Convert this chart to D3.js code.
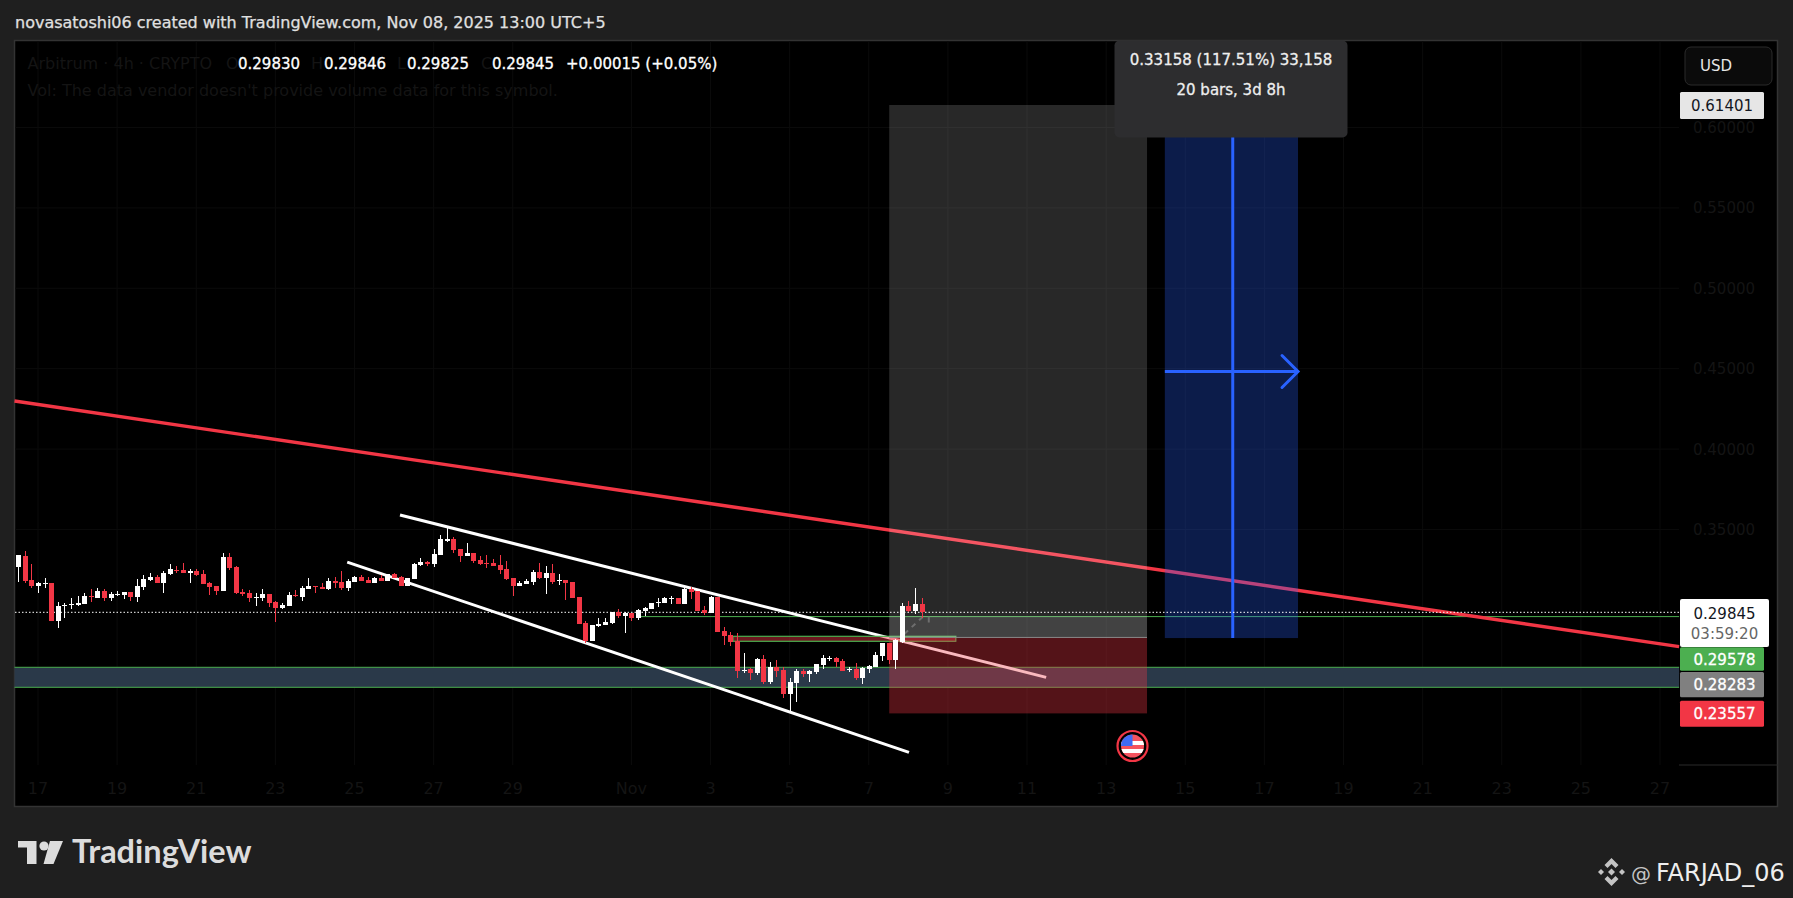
<!DOCTYPE html>
<html>
<head>
<meta charset="utf-8">
<script src="https://cdn.jsdelivr.net/npm/d3@7"></script>
<style>
  html, body { margin: 0; padding: 0; background: #1f1f1f; overflow: hidden; }
  svg { display: block; }
  text { font-family: "DejaVu Sans", sans-serif; }
</style>
</head>
<body>
<script>
//screen width and height
var w = 1793;
var h = 898;

// price axis
var priceTicks = [0.6, 0.55, 0.5, 0.45, 0.4, 0.35];

// time axis, in 4h bars counted from Oct 17 (six bars a day)
var timeTicks = [0, 12, 24, 36, 48, 60, 72, 90, 102, 114, 126, 138, 150, 162, 174, 186, 198, 210, 222, 234, 246];
var timeLabels = ["17", "19", "21", "23", "25", "27", "29", "Nov", "3", "5", "7", "9", "11", "13", "15", "17", "19", "21", "23", "25", "27"];

// levels
var lastPrice = 0.29845;
var greenLevel = 0.29578;
var entryPrice = 0.28283;
var stopPrice = 0.23557;
var targetPrice = 0.61401;
var rangeLow = 0.28243;
var bandPrices = [0.26425, 0.25181];
var orderBlockPrices = [0.28352, 0.28042];

// drawings: [bar, price] end points
var trendLine = [[-3.56, 0.4299], [248.9, 0.2771]];
var channelUpper = [[54.9, 0.3590], [152.9, 0.2580]];
var channelLower = [[46.9, 0.3297], [132.1, 0.2113]];
var projection = [[131.4, 0.2850], [134.6, 0.2972]];
var projectionStub = [[135.1, 0.2957], [135.1, 0.2921]];

// bar ranges of the boxes
var chartBars = [-3.56, 248.9];
var greenLevelBars = [91.4, 248.9];
var orderBlockBars = [105.4, 139.2];
var positionBars = [129.1, 168.2];
var rangeBars = [170.9, 191.1];
var rangeMidBar = 181.2;
var eventBar = 166;

// candles start at bar -3, each row is open, high, low, close
var firstBar = -3;
var candles = [
  [.3266, .3341, .3173, .3341], [.3335, .3366, .3167, .3179], [.3186, .3285, .3136, .3148], [.3148, .3173, .3105, .3169],
  [.3165, .3198, .3136, .3169], [.3167, .3167, .2931, .2931], [.2931, .3047, .2887, .3024], [.3026, .3042, .2949, .3032],
  [.3032, .3074, .3005, .3038], [.3030, .3086, .3024, .3042], [.3036, .3105, .3036, .3086], [.3086, .3130, .3049, .3080],
  [.3074, .3136, .3074, .3117], [.3117, .3130, .3055, .3074], [.3074, .3111, .3055, .3098], [.3092, .3117, .3086, .3098],
  [.3092, .3111, .3067, .3111], [.3111, .3111, .3055, .3080], [.3080, .3192, .3049, .3148], [.3142, .3217, .3123, .3192],
  [.3186, .3229, .3179, .3204], [.3204, .3217, .3167, .3167], [.3167, .3242, .3105, .3229], [.3223, .3285, .3217, .3254],
  [.3248, .3273, .3229, .3242], [.3248, .3291, .3229, .3229], [.3231, .3254, .3167, .3242], [.3242, .3254, .3210, .3217],
  [.3223, .3248, .3161, .3161], [.3167, .3173, .3092, .3142], [.3148, .3148, .3092, .3117], [.3117, .3353, .3117, .3329],
  [.3329, .3353, .3248, .3260], [.3266, .3273, .3098, .3105], [.3111, .3130, .3086, .3098], [.3105, .3123, .3049, .3074],
  [.3076, .3105, .3024, .3080], [.3074, .3130, .3055, .3098], [.3098, .3098, .3018, .3042], [.3049, .3055, .2924, .3011],
  [.3011, .3042, .3005, .3030], [.3024, .3111, .3024, .3092], [.3090, .3123, .3080, .3086], [.3080, .3148, .3055, .3136],
  [.3130, .3198, .3130, .3148], [.3148, .3148, .3105, .3144], [.3142, .3167, .3130, .3130], [.3130, .3198, .3123, .3179],
  [.3179, .3204, .3136, .3167], [.3173, .3242, .3123, .3136], [.3136, .3192, .3117, .3179], [.3173, .3210, .3173, .3204],
  [.3204, .3217, .3179, .3179], [.3186, .3204, .3167, .3167], [.3167, .3204, .3167, .3198], [.3198, .3217, .3179, .3179],
  [.3179, .3223, .3179, .3223], [.3223, .3229, .3198, .3198], [.3204, .3210, .3148, .3148], [.3148, .3198, .3148, .3198],
  [.3192, .3291, .3192, .3285], [.3279, .3322, .3273, .3298], [.3298, .3304, .3273, .3285], [.3285, .3378, .3266, .3347],
  [.3341, .3465, .3341, .3441], [.3428, .3509, .3422, .3441], [.3441, .3453, .3353, .3372], [.3378, .3378, .3298, .3335],
  [.3335, .3416, .3335, .3353], [.3353, .3353, .3291, .3304], [.3310, .3335, .3279, .3285], [.3291, .3341, .3260, .3287],
  [.3291, .3316, .3273, .3273], [.3279, .3341, .3223, .3248], [.3254, .3304, .3186, .3192], [.3198, .3198, .3086, .3148],
  [.3148, .3179, .3148, .3167], [.3161, .3192, .3161, .3179], [.3173, .3248, .3154, .3235], [.3235, .3291, .3192, .3198],
  [.3198, .3273, .3098, .3229], [.3229, .3285, .3161, .3173], [.3179, .3223, .3154, .3186], [.3186, .3186, .3061, .3167],
  [.3173, .3173, .3074, .3074], [.3080, .3080, .2912, .2912], [.2918, .2931, .2794, .2806], [.2806, .2906, .2806, .2906],
  [.2899, .2949, .2893, .2912], [.2906, .2949, .2906, .2924], [.2918, .2987, .2912, .2987], [.2987, .3005, .2949, .2962],
  [.2962, .2987, .2856, .2980], [.2980, .2980, .2931, .2949], [.2949, .3005, .2937, .2999], [.2993, .3018, .2962, .3011],
  [.3005, .3042, .3005, .3042], [.3042, .3074, .3018, .3049], [.3042, .3080, .3042, .3074], [.3067, .3086, .3036, .3074],
  [.3074, .3074, .3036, .3036], [.3036, .3136, .3036, .3130], [.3130, .3142, .3067, .3111], [.3117, .3117, .2993, .2993],
  [.2999, .3024, .2968, .2980], [.2980, .3086, .2980, .3080], [.3080, .3080, .2862, .2862], [.2868, .2893, .2781, .2837],
  [.2843, .2862, .2775, .2800], [.2806, .2856, .2576, .2620], [.2622, .2732, .2607, .2626], [.2632, .2638, .2564, .2607],
  [.2607, .2701, .2595, .2694], [.2694, .2719, .2539, .2551], [.2551, .2676, .2539, .2645], [.2645, .2688, .2582, .2620],
  [.2626, .2645, .2452, .2477], [.2477, .2576, .2365, .2551], [.2545, .2632, .2427, .2620], [.2620, .2632, .2582, .2601],
  [.2601, .2626, .2551, .2620], [.2614, .2663, .2601, .2663], [.2657, .2719, .2632, .2701], [.2697, .2713, .2682, .2701],
  [.2701, .2707, .2643, .2676], [.2682, .2694, .2620, .2620], [.2628, .2645, .2614, .2632], [.2632, .2669, .2564, .2576],
  [.2576, .2645, .2539, .2638], [.2632, .2657, .2607, .2651], [.2645, .2738, .2645, .2719], [.2713, .2794, .2682, .2794],
  [.2794, .2794, .2663, .2688], [.2688, .2819, .2632, .2812], [.2800, .3042, .2794, .3024], [.3024, .3055, .2987, .2993],
  [.2993, .3136, .2974, .3036], [.3036, .3074, .2949, .2985]
];

var RED = "#f23645";
var GREEN = "#4caf50";
var BLUE = "#2962ff";
var DIM = "#141414";

var x = d3.scaleLinear().domain([0, 246]).range([38, 1660]);
var y = d3.scaleLinear().domain([stopPrice, targetPrice]).range([713.4, 105]);

var svg = d3.select("body").append("svg")
  .attr("width", w)
  .attr("height", h);

svg.append("rect").attr("width", w).attr("height", h).attr("fill", "#1f1f1f");

// chart panel
var panel = {left: 15, right: 1778, top: 41, bottom: 807, axisX: 1679, axisY: 765};
svg.append("rect")
  .attr("x", panel.left - 0.5)
  .attr("y", panel.top - 0.5)
  .attr("width", panel.right - panel.left)
  .attr("height", panel.bottom - panel.top)
  .attr("fill", "#000")
  .attr("stroke", "#333")
  .attr("stroke-width", 1.5);

// faint grid
var grid = svg.append("g").attr("stroke", "#0b0b0b");
grid.selectAll("line.v").data(timeTicks).enter().append("line")
  .attr("class", "v")
  .attr("x1", function(d) { return x(d); })
  .attr("x2", function(d) { return x(d); })
  .attr("y1", panel.top)
  .attr("y2", panel.axisY);
grid.selectAll("line.h").data(priceTicks).enter().append("line")
  .attr("class", "h")
  .attr("x1", panel.left)
  .attr("x2", panel.axisX)
  .attr("y1", function(d) { return y(d); })
  .attr("y2", function(d) { return y(d); });

svg.append("line")
  .attr("x1", panel.axisX).attr("x2", panel.right)
  .attr("y1", panel.axisY).attr("y2", panel.axisY)
  .attr("stroke", "#2a2a2a");

// faint axis text, almost invisible on the black panel
svg.selectAll("text.time").data(timeTicks).enter().append("text")
  .attr("class", "time")
  .attr("x", function(d) { return x(d); })
  .attr("y", 794)
  .attr("text-anchor", "middle")
  .attr("font-size", 16)
  .attr("fill", DIM)
  .text(function(d, i) { return timeLabels[i]; });

svg.selectAll("text.price").data(priceTicks).enter().append("text")
  .attr("class", "price")
  .attr("x", 1724)
  .attr("y", function(d) { return y(d) + 5.5; })
  .attr("text-anchor", "middle")
  .attr("font-size", 15)
  .attr("fill", DIM)
  .text(function(d) { return d.toFixed(5); });

// support band
svg.append("rect")
  .attr("x", x(chartBars[0]))
  .attr("y", y(bandPrices[0]))
  .attr("width", x(chartBars[1]) - x(chartBars[0]))
  .attr("height", y(bandPrices[1]) - y(bandPrices[0]))
  .attr("fill", "#2a3949");
svg.selectAll("line.band").data(bandPrices).enter().append("line")
  .attr("class", "band")
  .attr("x1", x(chartBars[0]))
  .attr("x2", x(chartBars[1]))
  .attr("y1", function(d) { return y(d); })
  .attr("y2", function(d) { return y(d); })
  .attr("stroke", GREEN)
  .attr("stroke-width", 1);

// green level
svg.append("line")
  .attr("x1", x(greenLevelBars[0]))
  .attr("x2", x(greenLevelBars[1]))
  .attr("y1", y(greenLevel))
  .attr("y2", y(greenLevel))
  .attr("stroke", GREEN);

// trend line and channel
var line = d3.line()
  .x(function(d) { return x(d[0]); })
  .y(function(d) { return y(d[1]); });

svg.append("path").attr("d", line(trendLine))
  .attr("fill", "none").attr("stroke", RED).attr("stroke-width", 3.4);
[channelUpper, channelLower].forEach(function(c) {
  svg.append("path").attr("d", line(c))
    .attr("fill", "none").attr("stroke", "#fff").attr("stroke-width", 3);
});

// order block
svg.append("rect")
  .attr("x", x(orderBlockBars[0]))
  .attr("y", y(orderBlockPrices[0]))
  .attr("width", x(orderBlockBars[1]) - x(orderBlockBars[0]))
  .attr("height", y(orderBlockPrices[1]) - y(orderBlockPrices[0]))
  .attr("fill", "rgba(242,54,69,0.45)")
  .attr("stroke", GREEN)
  .attr("stroke-width", 1.2);

// long position boxes
svg.append("rect")
  .attr("x", x(positionBars[0]))
  .attr("y", y(targetPrice))
  .attr("width", x(positionBars[1]) - x(positionBars[0]))
  .attr("height", y(entryPrice) - y(targetPrice))
  .attr("fill", "rgba(255,255,255,0.157)");
svg.append("rect")
  .attr("x", x(positionBars[0]))
  .attr("y", y(greenLevel))
  .attr("width", x(positionBars[1]) - x(positionBars[0]))
  .attr("height", y(entryPrice) - y(greenLevel))
  .attr("fill", "rgba(255,255,255,0.12)");
svg.append("rect")
  .attr("x", x(positionBars[0]))
  .attr("y", y(entryPrice))
  .attr("width", x(positionBars[1]) - x(positionBars[0]))
  .attr("height", y(stopPrice) - y(entryPrice))
  .attr("fill", "rgba(242,54,69,0.35)");
svg.append("line")
  .attr("x1", x(positionBars[0]))
  .attr("x2", x(positionBars[1]))
  .attr("y1", y(entryPrice))
  .attr("y2", y(entryPrice))
  .attr("stroke", "#8a8a8a");

// price range tool
svg.append("rect")
  .attr("x", x(rangeBars[0]))
  .attr("y", y(targetPrice))
  .attr("width", x(rangeBars[1]) - x(rangeBars[0]))
  .attr("height", y(rangeLow) - y(targetPrice))
  .attr("fill", "rgba(41,98,255,0.29)");
var midPrice = (targetPrice + rangeLow) / 2;
svg.append("line")
  .attr("x1", x(rangeMidBar)).attr("x2", x(rangeMidBar))
  .attr("y1", y(targetPrice)).attr("y2", y(rangeLow))
  .attr("stroke", BLUE).attr("stroke-width", 3);
svg.append("line")
  .attr("x1", x(rangeBars[0])).attr("x2", x(rangeBars[1]))
  .attr("y1", y(midPrice)).attr("y2", y(midPrice))
  .attr("stroke", BLUE).attr("stroke-width", 3);
svg.append("path")
  .attr("d", "M" + (x(rangeBars[1]) - 16) + "," + (y(midPrice) - 16) +
    "L" + x(rangeBars[1]) + "," + y(midPrice) +
    "L" + (x(rangeBars[1]) - 16) + "," + (y(midPrice) + 16))
  .attr("fill", "none").attr("stroke", BLUE).attr("stroke-width", 3).attr("stroke-linecap", "round");

// dashed projection inside the target box
svg.append("path").attr("d", line(projection))
  .attr("fill", "none").attr("stroke", "#6e6e6e").attr("stroke-width", 2).attr("stroke-dasharray", "5 5");
svg.append("path").attr("d", line(projectionStub))
  .attr("fill", "none").attr("stroke", "#6e6e6e").attr("stroke-width", 2);

// last price line
svg.append("line")
  .attr("x1", panel.left).attr("x2", panel.axisX)
  .attr("y1", y(lastPrice)).attr("y2", y(lastPrice))
  .attr("stroke", "#fff")
  .attr("stroke-dasharray", "1.5 2");

// candles
var barX = function(i) { return x(firstBar + i); };
var isUp = function(d) { return d[3] >= d[0]; };
var candle = svg.append("g").attr("shape-rendering", "crispEdges");
candle.selectAll("line").data(candles).enter().append("line")
  .attr("x1", function(d, i) { return Math.round(barX(i)) + 0.5; })
  .attr("x2", function(d, i) { return Math.round(barX(i)) + 0.5; })
  .attr("y1", function(d) { return y(d[1]); })
  .attr("y2", function(d) { return y(d[2]); })
  .attr("stroke", function(d) { return isUp(d) ? "#fff" : RED; });
candle.selectAll("rect").data(candles).enter().append("rect")
  .attr("x", function(d, i) { return Math.round(barX(i)) - 2; })
  .attr("width", 5)
  .attr("y", function(d) { return y(Math.max(d[0], d[3])); })
  .attr("height", function(d) { return Math.max(1, Math.abs(y(d[0]) - y(d[3]))); })
  .attr("fill", function(d) { return isUp(d) ? "#fff" : RED; });

// economic event flag
var flagX = x(eventBar);
var flagY = 746;
svg.append("circle").attr("cx", flagX).attr("cy", flagY).attr("r", 15)
  .attr("fill", "#000").attr("stroke", RED).attr("stroke-width", 2.2);
var clip = svg.append("clipPath").attr("id", "flag");
clip.append("circle").attr("cx", flagX).attr("cy", flagY).attr("r", 11.5);
var flag = svg.append("g").attr("clip-path", "url(#flag)");
flag.append("rect").attr("x", flagX - 12).attr("y", flagY - 12).attr("width", 24).attr("height", 24).attr("fill", "#f4535f");
flag.append("rect").attr("x", flagX - 12).attr("y", flagY - 5).attr("width", 24).attr("height", 4).attr("fill", "#fff");
flag.append("rect").attr("x", flagX - 12).attr("y", flagY + 3).attr("width", 24).attr("height", 4).attr("fill", "#fff");
flag.append("rect").attr("x", flagX - 12).attr("y", flagY - 12).attr("width", 12).attr("height", 12).attr("fill", "#3f6bf5");

// stacked labels on the price axis
var axisLabels = [
  {text: "0.29578", top: 647.3, bottom: 670.7, fill: GREEN},
  {text: "0.28283", top: 672, bottom: 697.3, fill: "#808080"},
  {text: "0.23557", top: 700.7, bottom: 726.7, fill: RED}
];
svg.selectAll("rect.label").data(axisLabels).enter().append("rect")
  .attr("class", "label")
  .attr("x", 1680)
  .attr("width", 84)
  .attr("y", function(d) { return d.top; })
  .attr("height", function(d) { return d.bottom - d.top; })
  .attr("rx", 1.5)
  .attr("fill", function(d) { return d.fill; });
svg.selectAll("text.label").data(axisLabels).enter().append("text")
  .attr("class", "label")
  .attr("x", 1724.5)
  .attr("y", function(d) { return (d.top + d.bottom) / 2 + 5.5; })
  .attr("text-anchor", "middle")
  .attr("font-size", 15)
  .attr("fill", "#fff")
  .attr("stroke", "#fff")
  .attr("stroke-width", 0.3)
  .text(function(d) { return d.text; });

svg.append("rect").attr("x", 1680).attr("y", 599).attr("width", 89).attr("height", 48)
  .attr("rx", 2).attr("fill", "#fff");
svg.append("text").attr("x", 1724.5).attr("y", 618.5).attr("text-anchor", "middle")
  .attr("font-size", 15).attr("fill", "#131722").text(lastPrice.toFixed(5));
svg.append("text").attr("x", 1724.5).attr("y", 638.5).attr("text-anchor", "middle")
  .attr("font-size", 15).attr("fill", "#666").text("03:59:20");

svg.append("rect").attr("x", 1680).attr("y", 92).attr("width", 84).attr("height", 27)
  .attr("rx", 1.5).attr("fill", "#e6e6e6");
svg.append("text").attr("x", 1722).attr("y", 111).attr("text-anchor", "middle")
  .attr("font-size", 15).attr("fill", "#131722").text(targetPrice.toFixed(5));

svg.append("rect").attr("x", 1685).attr("y", 47).attr("width", 87).attr("height", 38)
  .attr("rx", 6).attr("fill", "#0b0b0b").attr("stroke", "#2b2b2b");
svg.append("text").attr("x", 1700).attr("y", 71).attr("font-size", 15).attr("fill", "#e6e6e6").text("USD");

// price range tooltip
svg.append("rect").attr("x", 1114.5).attr("y", 40.5).attr("width", 233).attr("height", 97)
  .attr("rx", 5).attr("fill", "#2d2d2f");
svg.append("text").attr("x", 1231).attr("y", 65).attr("text-anchor", "middle")
  .attr("font-size", 15).attr("fill", "#eee").attr("stroke", "#eee").attr("stroke-width", 0.3).text("0.33158 (117.51%) 33,158");
svg.append("text").attr("x", 1231).attr("y", 95).attr("text-anchor", "middle")
  .attr("font-size", 15).attr("fill", "#eee").attr("stroke", "#eee").attr("stroke-width", 0.3).text("20 bars, 3d 8h");

// header and legend
svg.append("text").attr("x", 15).attr("y", 28).attr("font-size", 16)
  .attr("fill", "#e0e0e0").attr("stroke", "#e0e0e0").attr("stroke-width", 0.25)
  .text("novasatoshi06 created with TradingView.com, Nov 08, 2025 13:00 UTC+5");

svg.append("text").attr("x", 27.5).attr("y", 69).attr("font-size", 16).attr("fill", DIM)
  .text("Arbitrum · 4h · CRYPTO");
svg.append("text").attr("x", 27.5).attr("y", 96).attr("font-size", 16).attr("fill", DIM)
  .text("Vol: The data vendor doesn't provide volume data for this symbol.");

var legendLetters = [["O", 226], ["H", 311], ["L", 397], ["C", 481]];
svg.selectAll("text.letter").data(legendLetters).enter().append("text")
  .attr("class", "letter")
  .attr("x", function(d) { return d[1]; })
  .attr("y", 69)
  .attr("font-size", 16)
  .attr("fill", DIM)
  .text(function(d) { return d[0]; });

var legendValues = [["0.29830", 238], ["0.29846", 324], ["0.29825", 407], ["0.29845", 492], ["+0.00015 (+0.05%)", 566]];
svg.selectAll("text.value").data(legendValues).enter().append("text")
  .attr("class", "value")
  .attr("x", function(d) { return d[1]; })
  .attr("y", 69)
  .attr("font-size", 15)
  .attr("fill", "#fff")
  .attr("stroke", "#fff")
  .attr("stroke-width", 0.3)
  .text(function(d) { return d[0]; });

// TradingView logo
var logo = svg.append("g").attr("fill", "#dcdcdc");
logo.append("path").attr("d", "M18,841H36.5V864H27V847.5H18Z");
logo.append("circle").attr("cx", 44).attr("cy", 846).attr("r", 4.6);
logo.append("path").attr("d", "M50,841H63L53.5,864H43.5Z");
logo.append("text").attr("x", 72).attr("y", 863)
  .style("font-family", "Lato, sans-serif")
  .attr("font-size", 32.5).attr("font-weight", 700).text("TradingView");

// author mark
var mark = svg.append("g").attr("transform", "translate(1611.5,872)").attr("fill", "#c4c4c4");
mark.append("path").attr("d", "M0,-14L7,-7L4,-4L0,-8L-4,-4L-7,-7Z");
mark.append("path").attr("d", "M0,14L7,7L4,4L0,8L-4,4L-7,7Z");
mark.append("path").attr("d", "M0,-3.5L3.5,0L0,3.5L-3.5,0Z");
mark.append("path").attr("d", "M-10.5,-3L-7.5,0L-10.5,3L-13.5,0Z");
mark.append("path").attr("d", "M10.5,-3L13.5,0L10.5,3L7.5,0Z");
svg.append("text").attr("x", 1631).attr("y", 881).attr("font-size", 20).attr("fill", "#c4c4c4").text("@");
svg.append("text").attr("x", 1656).attr("y", 881).attr("font-size", 24).attr("fill", "#eee").text("FARJAD_06");
</script>
</body>
</html>
